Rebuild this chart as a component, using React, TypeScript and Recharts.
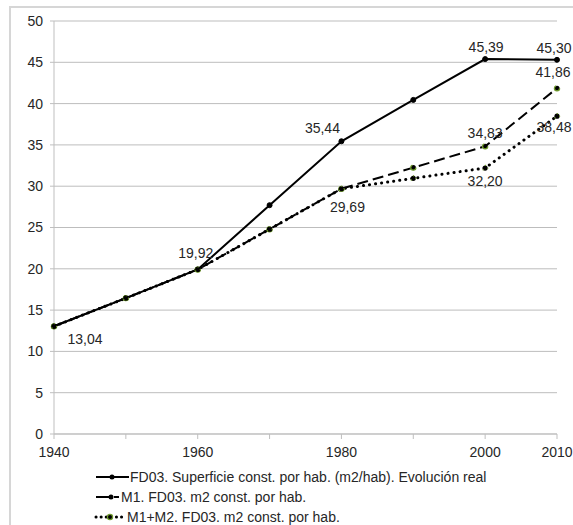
import React from 'react';
import { LineChart, Line, XAxis, YAxis, CartesianGrid, Legend, LabelList } from 'recharts';

const years = [1940, 1950, 1960, 1970, 1980, 1990, 2000, 2010];
const realValues = [13.04, 16.45, 19.92, 27.7, 35.44, 40.45, 45.39, 45.3];
const m1Values = [13.04, 16.45, 19.92, 24.8, 29.69, 32.25, 34.83, 41.86];
const m1m2Values = [13.04, 16.45, 19.92, 24.8, 29.69, 30.95, 32.2, 38.48];
const yTicks = [0, 5, 10, 15, 20, 25, 30, 35, 40, 45, 50];
const xTicks = [1940, 1950, 1960, 1970, 1980, 1990, 2000, 2010];
const xLabelled = [1940, 1960, 1980, 2000, 2010];
const seriesNames = [
  'FD03. Superficie const. por hab. (m2/hab). Evolución real',
  'M1. FD03. m2 const. por hab.',
  'M1+M2. FD03. m2 const. por hab.',
];

const data = years.map((y, i) => ({ year: y, real: realValues[i], m1: m1Values[i], m1m2: m1m2Values[i] }));

// label placement (style): index -> offset of text centre from point
const realLabels: Record<number, [number, number]> = { 0: [31, 13], 2: [-2, -16], 4: [-19, -13], 6: [1, -12], 7: [-3, -12] };
const m1Labels: Record<number, [number, number]> = { 4: [6, 18], 6: [0, -13], 7: [-4, -16] };
const m1m2Labels: Record<number, [number, number]> = { 6: [0, 13], 7: [-3, 11] };

const FONT = '"Liberation Sans", Arial, sans-serif';
const TEXT = '#262626';
const GREEN = '#6f9a2c';

const fmt = (v: number) => v.toFixed(2).replace('.', ',');

const makeLabel = (cfg: Record<number, [number, number]>) => (props: any) => {
  const { x, y, value, index } = props;
  const o = cfg[index];
  if (!o) return null;
  return (
    <text x={x + o[0]} y={y + o[1]} dy="0.35em" textAnchor="middle" fontSize={14} fill={TEXT} fontFamily={FONT}>
      {fmt(Number(value))}
    </text>
  );
};

const blackDot = { r: 2.5, fill: '#000', stroke: '#000', strokeWidth: 1 };
const greenDot = { r: 2.6, fill: '#000', stroke: GREEN, strokeWidth: 1.3 };

const LegendContent = () => (
  <svg width={470} height={62} style={{ display: 'block', overflow: 'visible' }}>
    <g>
      <line x1={0} y1={11} x2={33} y2={11} stroke="#000" strokeWidth={2} />
      <circle cx={16} cy={11} r={2.5} fill="#000" />
      <text x={34} y={11} dy="0.35em" fontSize={14} fill={TEXT} fontFamily={FONT}>{seriesNames[0]}</text>
    </g>
    <g>
      <line x1={0} y1={31} x2={14} y2={31} stroke="#000" strokeWidth={2} />
      <line x1={18} y1={31} x2={23} y2={31} stroke="#000" strokeWidth={2} />
      <circle cx={15} cy={31} r={2.5} fill="#000" />
      <text x={25} y={31} dy="0.35em" fontSize={14} fill={TEXT} fontFamily={FONT}>{seriesNames[1]}</text>
    </g>
    <g>
      <line x1={0} y1={51} x2={30} y2={51} stroke="#000" strokeWidth={3} strokeDasharray="0.1 5" strokeLinecap="round" />
      <circle cx={14} cy={51} r={2.6} fill="#000" stroke={GREEN} strokeWidth={1.2} />
      <text x={31} y={51} dy="0.35em" fontSize={14} fill={TEXT} fontFamily={FONT}>{seriesNames[2]}</text>
    </g>
  </svg>
);

export default function App() {
  return (
    <div style={{ position: 'absolute', left: 0, top: 0, width: 573, height: 525, overflow: 'hidden', background: '#fff' }}>
      <div style={{ position: 'absolute', left: 9, top: 6, width: 700, height: 700, border: '2px solid #d6d6d6', boxSizing: 'border-box' }} />
      <div style={{ position: 'absolute', left: 0, top: 0 }}>
        <LineChart width={573} height={525} data={data} margin={{ top: 21, right: 16, bottom: 61, left: 14 }}>
          <CartesianGrid vertical={false} stroke="#bdbdbd" strokeWidth={1} />
          <XAxis
            dataKey="year"
            type="number"
            domain={[1940, 2010]}
            ticks={xTicks}
            interval={0}
            tickFormatter={(v: number) => (xLabelled.includes(v) ? String(v) : '')}
            stroke="#bfbfbf"
            tickSize={5}
            tickMargin={8}
            height={30}
            tick={{ fill: TEXT, fontSize: 14, fontFamily: FONT }}
          />
          <YAxis
            type="number"
            domain={[0, 50]}
            ticks={yTicks}
            interval={0}
            stroke="#bfbfbf"
            tickSize={4}
            tickMargin={7}
            width={40}
            tick={{ fill: TEXT, fontSize: 14, fontFamily: FONT }}
          />
          <Legend
            layout="horizontal"
            verticalAlign="middle"
            align="center"
            content={() => <LegendContent />}
            wrapperStyle={{ left: 96, top: 466, width: 470, height: 62 }}
          />
          <Line
            dataKey="real"
            name={seriesNames[0]}
            stroke="#000"
            strokeWidth={2}
            dot={blackDot}
            activeDot={false}
            isAnimationActive={false}
          >
            <LabelList dataKey="real" content={makeLabel(realLabels)} />
          </Line>
          <Line
            dataKey="m1"
            name={seriesNames[1]}
            stroke="#000"
            strokeWidth={2}
            strokeDasharray="11 5"
            dot={greenDot}
            activeDot={false}
            isAnimationActive={false}
          >
            <LabelList dataKey="m1" content={makeLabel(m1Labels)} />
          </Line>
          <Line
            dataKey="m1m2"
            name={seriesNames[2]}
            stroke="#000"
            strokeWidth={3}
            strokeDasharray="0.1 6"
            strokeLinecap="round"
            dot={greenDot}
            activeDot={false}
            isAnimationActive={false}
          >
            <LabelList dataKey="m1m2" content={makeLabel(m1m2Labels)} />
          </Line>
        </LineChart>
      </div>
    </div>
  );
}
